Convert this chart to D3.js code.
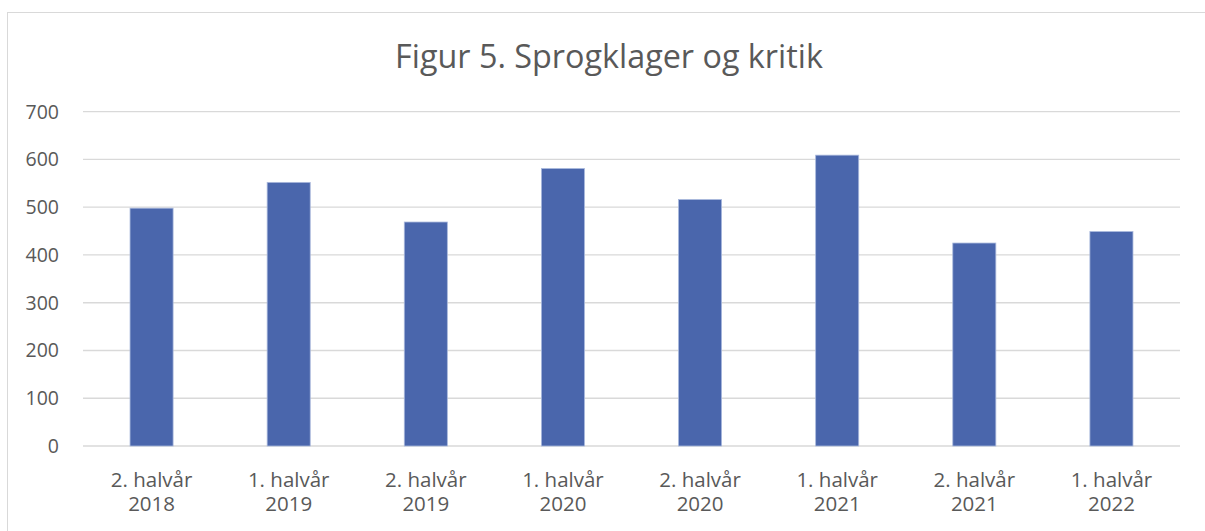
<!DOCTYPE html>
<html lang="da">
<head>
    <meta charset="UTF-8">
    <title>Figur 5</title>
    <script src="https://d3js.org/d3.v7.min.js"></script>
    <style>
        body { margin: 0; background: #fff; }
        svg text { font-family: "Open Sans", "Liberation Sans", sans-serif; fill: #595959; }
        .grid line { stroke: #d9d9d9; stroke-width: 1.3; }
    </style>
</head>
<body>
<div id="fig"></div>
<script>
    let categories = ["2. halvår 2018", "1. halvår 2019", "2. halvår 2019", "1. halvår 2020",
        "2. halvår 2020", "1. halvår 2021", "2. halvår 2021", "1. halvår 2022"]
    let values = [498, 552, 469, 581, 516, 609, 425, 449]
    let yTicks = [0, 100, 200, 300, 400, 500, 600, 700]
    let title = "Figur 5. Sprogklager og kritik"

    let W = 1205, H = 531
    let plotLeft = 83, plotRight = 1180, plotTop = 111.7, plotBottom = 446

    let svg = d3.select("#fig").append("svg")
        .attr("width", W).attr("height", H)

    // chart frame
    svg.append("rect").attr("x", 7.5).attr("y", 12.5)
        .attr("width", 1205).attr("height", 530)
        .attr("fill", "#fff").attr("stroke", "#d9d9d9")

    let x = d3.scaleBand().domain(categories).range([plotLeft, plotRight])
        .paddingInner(0.686).paddingOuter(0.343)
    let y = d3.scaleLinear().domain([0, 700]).range([plotBottom, plotTop])

    // squeeze text to a target width
    function fit(sel, width) {
        let n = sel.node()
        let fs = parseFloat(sel.attr("font-size"))
        let w = n.getComputedTextLength()
        sel.attr("font-size", fs * width / w)
    }

    let grid = svg.append("g").attr("class", "grid")
    grid.selectAll("line").data(yTicks).enter().append("line")
        .attr("x1", plotLeft).attr("x2", plotRight)
        .attr("y1", d => y(d)).attr("y2", d => y(d))

    svg.append("g").selectAll("text").data(yTicks).enter().append("text")
        .attr("x", 59).attr("y", d => y(d) + 7)
        .attr("text-anchor", "end").attr("font-size", 19.5)
        .text(d => d)

    svg.append("g").selectAll("rect").data(values).enter().append("rect")
        .attr("x", (d, i) => x(categories[i]))
        .attr("width", x.bandwidth())
        .attr("y", d => y(d))
        .attr("height", d => y(0) - y(d))
        .attr("fill", "#4a66ac")
        .attr("stroke", "#a9b8dc").attr("stroke-width", 0.8)

    let xl = svg.append("g").selectAll("text").data(categories).enter().append("text")
        .attr("text-anchor", "middle")
        .attr("font-size", 20.5)
        .attr("transform", d => `translate(${x(d) + x.bandwidth() / 2},0)`)
    xl.append("tspan").attr("x", 0).attr("y", 487).text(d => d.split(" ").slice(0, 2).join(" "))
    xl.append("tspan").attr("x", 0).attr("y", 510.5).text(d => d.split(" ")[2])

    let t = svg.append("text").attr("x", 609).attr("y", 67.5)
        .attr("text-anchor", "middle").attr("font-size", 32)
        .text(title)
    fit(t, 428)
</script>
</body>
</html>
